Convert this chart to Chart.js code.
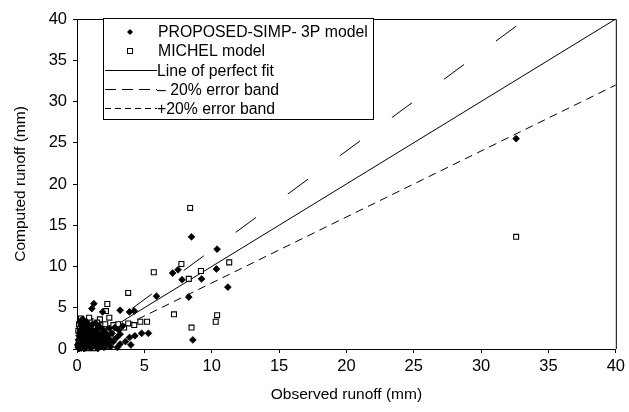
<!DOCTYPE html>
<html>
<head>
<meta charset="utf-8">
<script src="https://cdn.jsdelivr.net/npm/chart.js@4.4.1/dist/chart.umd.min.js"></script>
<style>
  html, body { margin: 0; padding: 0; background: #fff; }
</style>
</head>
<body>
<canvas id="chart" width="629" height="412"></canvas>
<script>
// observed vs computed runoff (mm)
const proposedPoints = [
  [32.6, 25.5], [8.5, 13.6], [10.4, 12.1], [10.35, 9.7], [7.8, 8.4], [9.25, 8.5],
  [8.3, 6.3], [11.2, 7.5], [5.9, 6.4], [7.1, 9.2], [7.5, 9.6], [8.6, 1.1],
  [1.25, 5.5], [1.1, 4.9], [1.9, 4.5], [3.2, 4.7], [3.9, 4.5], [4.25, 4.6],
  [4.8, 1.9], [5.3, 1.9], [4.3, 1.6], [3.9, 1.4], [3.2, 1.8], [2.95, 1.4],
  [2.45, 1.1], [2.7, 0.9], [3.2, 0.6], [3.6, 0.9], [4.0, 0.5], [2.2, 0.7],
  [2.5, 0.3], [3.0, 0.2], [0.5, 3.5], [0.55, 3.1],
  [0.1, 0.2], [0.2, 0.6], [0.3, 0.1], [0.35, 1.2], [0.4, 0.4], [0.45, 2.0],
  [0.5, 0.9], [0.6, 0.2], [0.65, 1.5], [0.7, 2.6], [0.75, 0.6], [0.8, 1.1],
  [0.9, 0.3], [0.95, 1.9], [1.0, 0.7], [1.05, 2.4], [1.1, 1.3], [1.2, 0.4],
  [1.25, 1.8], [1.3, 0.9], [1.4, 2.2], [1.45, 0.2], [1.5, 1.4], [1.6, 0.7],
  [1.65, 2.7], [1.7, 1.0], [1.8, 0.3], [1.85, 1.7], [1.95, 0.8], [2.0, 2.1],
  [2.1, 1.2], [2.3, 1.6], [2.4, 2.5], [2.6, 1.9], [0.15, 1.6], [0.25, 2.3],
  [0.3, 2.9], [0.2, 1.0], [0.55, 0.05], [1.15, 3.0], [2.8, 2.6], [3.1, 2.3],
  [3.4, 2.8], [1.55, 0.05], [0.85, 2.9],
  [0.05, 0.5], [0.1, 1.1], [0.15, 0.05], [0.2, 2.0], [0.25, 0.8], [0.3, 1.6],
  [0.35, 0.3], [0.4, 1.4], [0.45, 2.7], [0.5, 0.1], [0.55, 1.9], [0.6, 1.0],
  [0.7, 0.3], [0.75, 1.8], [0.8, 0.5], [0.85, 2.3], [0.9, 1.2], [1.0, 1.6],
  [1.1, 0.2], [1.2, 2.0], [1.3, 0.5], [1.35, 1.5], [1.5, 0.8], [1.6, 1.9],
  [1.75, 0.5], [1.9, 1.3], [2.0, 0.2], [2.2, 1.8], [0.6, 2.3], [1.0, 2.7],
  [0.25, 3.2], [0.4, 3.6], [0.7, 3.3], [1.4, 3.1], [1.9, 2.4]
];

const michelPoints = [
  [32.6, 13.6], [8.4, 17.1], [7.75, 10.3], [9.2, 9.45], [8.3, 8.5], [11.3, 10.5],
  [10.4, 4.1], [10.3, 3.3], [7.2, 4.2], [5.2, 3.3], [8.5, 2.6], [3.8, 6.8],
  [5.7, 9.3], [2.25, 5.45], [2.15, 4.6], [2.4, 3.8], [4.25, 2.9], [3.05, 3.0],
  [3.5, 2.6], [3.8, 3.1], [4.7, 3.3],
  [0.1, 0.5], [0.2, 1.4], [0.3, 0.3], [0.4, 2.6], [0.45, 0.8], [0.5, 1.7],
  [0.6, 3.2], [0.65, 0.4], [0.7, 1.2], [0.8, 2.2], [0.85, 0.1], [0.9, 1.5],
  [1.0, 3.4], [1.05, 0.5], [1.15, 2.0], [1.2, 1.0], [1.3, 2.8], [1.35, 0.3],
  [1.45, 1.6], [1.55, 2.4], [1.6, 0.9], [1.7, 3.6], [1.75, 1.9], [1.85, 0.5],
  [1.95, 2.9], [2.05, 1.3], [2.1, 3.0], [2.3, 2.2], [2.5, 1.5], [2.7, 2.9],
  [0.3, 2.0], [0.5, 2.8], [0.15, 3.0], [1.65, 2.2], [2.2, 0.4],
  [0.2, 2.4], [0.35, 0.6], [0.55, 0.2], [0.75, 2.6], [1.1, 1.7], [1.25, 0.1],
  [1.4, 0.6], [1.5, 3.2], [1.8, 1.2], [2.0, 2.4], [2.4, 0.9], [0.1, 2.2],
  [0.9, 3.8], [0.3, 3.7]
];

// reference lines
const perfectFit = [[0, 0], [40, 40]];
const minusBand = [[0, 0], [33.33, 40]];   // computed = 1.2 x observed
const plusBand = [[0, 0], [40, 32]];       // computed = 0.8 x observed

const seriesLabels = [
  "PROPOSED-SIMP- 3P model",
  "MICHEL model",
  "Line of perfect fit",
  "– 20% error band",
  "+20% error band"
];

const axisTicks = [0, 5, 10, 15, 20, 25, 30, 35, 40];

const FONT = '"Liberation Sans", Arial, Helvetica, sans-serif';
const toXY = arr => arr.map(p => ({ x: p[0], y: p[1] }));

// box round the plot + legend box in the upper left
const framePlugin = {
  id: "frame",
  afterDraw(chart) {
    const { ctx, chartArea: a } = chart;
    ctx.save();
    ctx.strokeStyle = "#000";
    ctx.lineWidth = 1;
    ctx.beginPath();
    ctx.moveTo(a.left, a.top + 0.5);
    ctx.lineTo(a.right + 0.5, a.top + 0.5);
    ctx.lineTo(a.right + 0.5, a.bottom);
    ctx.stroke();

    // legend
    const lx = 103.5, ly = 18.5, lw = 270, lh = 101;
    ctx.fillStyle = "#fff";
    ctx.fillRect(lx, ly, lw, lh);
    ctx.strokeRect(lx, ly, lw, lh);

    chart.data.datasets.forEach((ds, i) => {
      const y = 32 + i * 19.1;
      ctx.save();
      ctx.strokeStyle = "#000";
      ctx.fillStyle = "#000";
      if (ds.showLine) {
        ctx.lineWidth = 1;
        ctx.setLineDash(ds.legendDash || []);
        ctx.beginPath();
        ctx.moveTo(105, Math.round(y) + 0.5);
        ctx.lineTo(157, Math.round(y) + 0.5);
        ctx.stroke();
      } else if (ds.pointStyle === "rectRot") {
        ctx.beginPath();
        ctx.moveTo(130, y - 3);
        ctx.lineTo(133, y);
        ctx.lineTo(130, y + 3);
        ctx.lineTo(127, y);
        ctx.closePath();
        ctx.fill();
      } else {
        ctx.fillStyle = "#fff";
        ctx.lineWidth = 1;
        ctx.fillRect(127.5, Math.round(y) - 2.5, 5, 5);
        ctx.strokeRect(127.5, Math.round(y) - 2.5, 5, 5);
      }
      ctx.restore();
      ctx.fillStyle = "#000";
      ctx.font = "15.8px " + FONT;
      ctx.textBaseline = "middle";
      ctx.fillText(ds.label, ds.showLine ? 157 : 158, y + 1);
    });
    ctx.restore();
  }
};

const axis = (title, pos) => ({
  type: "linear",
  position: pos,
  min: axisTicks[0],
  max: axisTicks[axisTicks.length - 1],
  afterBuildTicks: s => { s.ticks = axisTicks.map(v => ({ value: v })); },
  ticks: {
    color: "#000",
    font: { family: FONT, size: 16.5 },
    padding: pos === "bottom" ? 4 : 6,
    maxRotation: 0
  },
  grid: { drawOnChartArea: false, drawTicks: true, tickLength: 4, color: "#000" },
  border: { color: "#000", width: 1 },
  title: {
    display: true,
    text: title,
    color: "#000",
    font: { family: FONT, size: 15.5 },
    padding: pos === "bottom" ? { top: 0, bottom: 8 } : { top: 11, bottom: 0 }
  },
  afterFit: s => {
    if (pos === "bottom") s.height = 63;
    else s.width = 77;
  }
});

new Chart(document.getElementById("chart"), {
  type: "scatter",
  data: {
    datasets: [
      {
        label: seriesLabels[0],
        data: toXY(proposedPoints),
        pointStyle: "rectRot",
        pointRadius: 3.4,
        borderWidth: 0.8,
        backgroundColor: "#000",
        borderColor: "#000",
        clip: false,
        order: 0
      },
      {
        label: seriesLabels[1],
        data: toXY(michelPoints),
        pointStyle: "rect",
        pointRadius: 3.5,
        borderWidth: 1.1,
        backgroundColor: "#fff",
        borderColor: "#000",
        clip: false,
        order: 1
      },
      {
        label: seriesLabels[2],
        data: toXY(perfectFit),
        showLine: true,
        pointRadius: 0,
        borderColor: "#000",
        borderWidth: 1,
        legendDash: [],
        order: 2
      },
      {
        label: seriesLabels[3],
        data: toXY(minusBand),
        showLine: true,
        pointRadius: 0,
        borderColor: "#000",
        borderWidth: 1,
        borderDash: [25, 39.6],
        borderDashOffset: 61.4,
        legendDash: [11, 6],
        order: 3
      },
      {
        label: seriesLabels[4],
        data: toXY(plusBand),
        showLine: true,
        pointRadius: 0,
        borderColor: "#000",
        borderWidth: 1,
        borderDash: [8, 5.5],
        legendDash: [6, 4],
        order: 4
      }
    ]
  },
  options: {
    responsive: false,
    animation: false,
    layout: { padding: { top: 19, right: 12, left: 0, bottom: 0 } },
    plugins: { legend: { display: false }, tooltip: { enabled: false } },
    scales: {
      x: axis("Observed runoff (mm)", "bottom"),
      y: axis("Computed runoff (mm)", "left")
    }
  },
  plugins: [framePlugin]
});
</script>
</body>
</html>
